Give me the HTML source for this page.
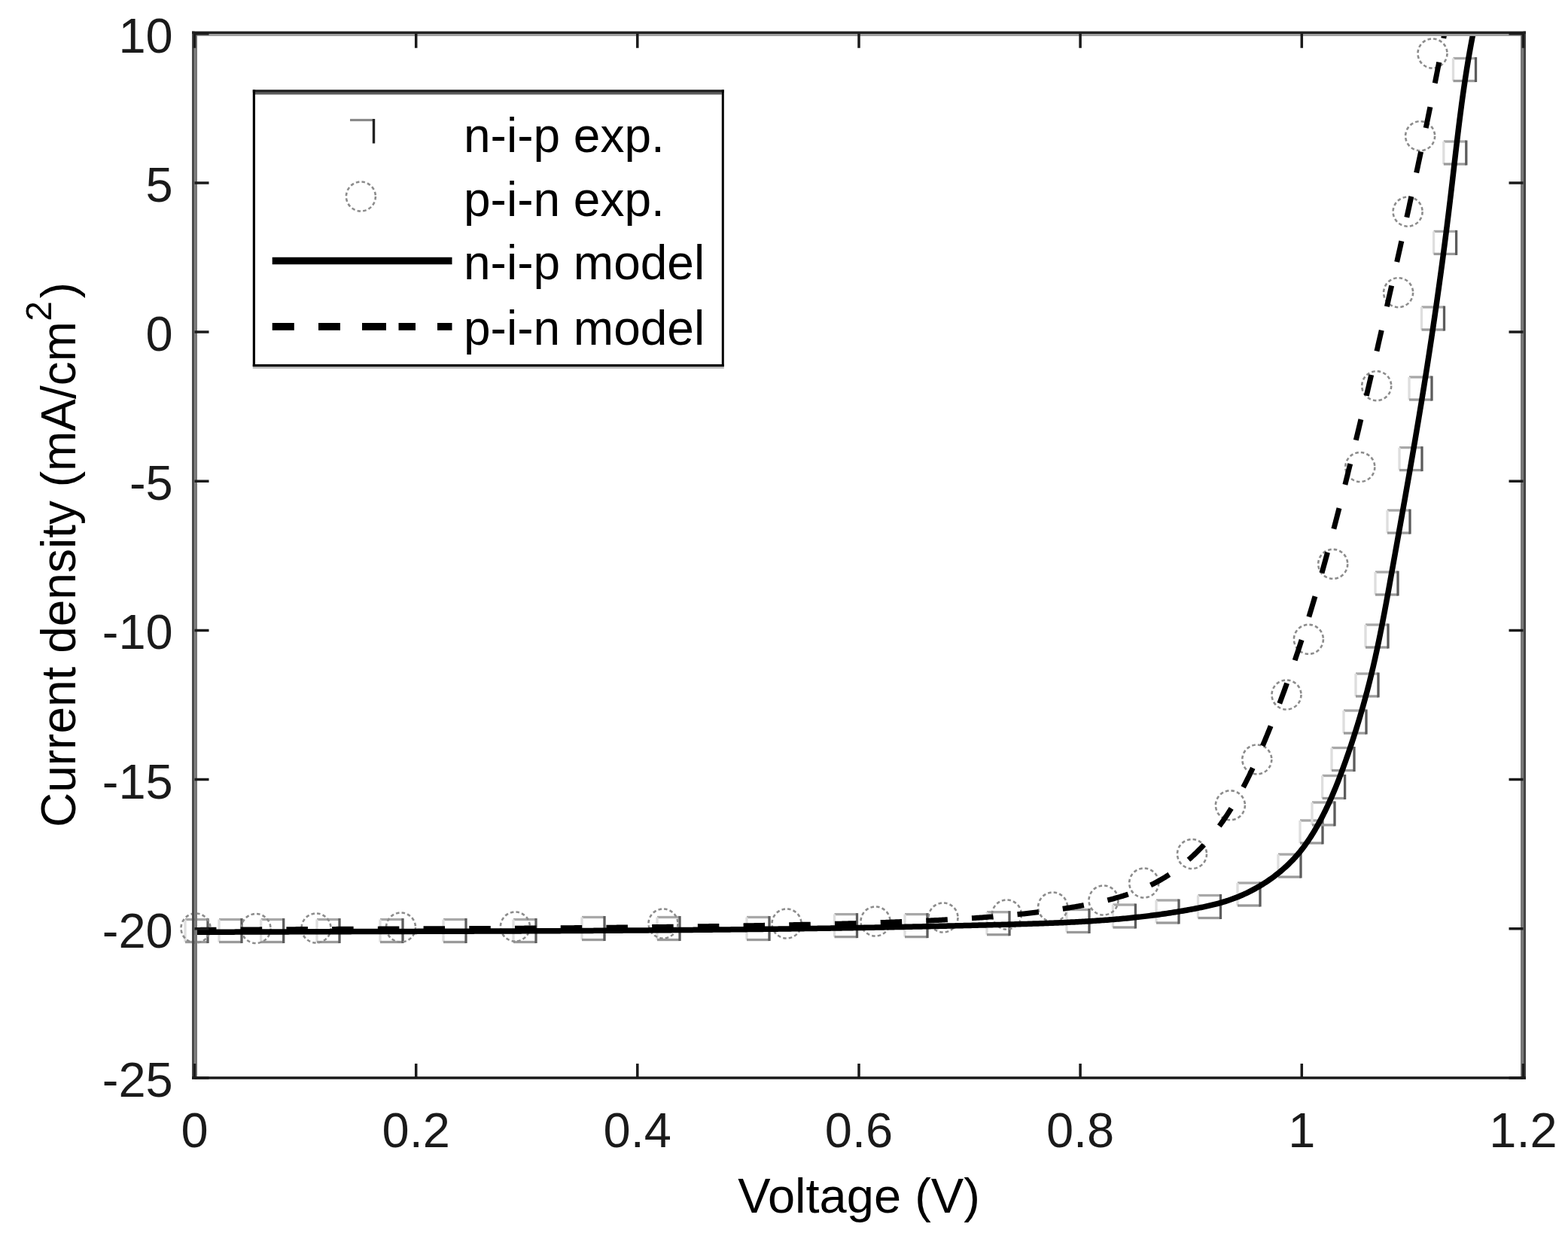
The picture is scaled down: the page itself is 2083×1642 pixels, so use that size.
<!DOCTYPE html>
<html><head><meta charset="utf-8"><title>J-V curves</title>
<style>html,body{margin:0;padding:0;background:#fff;width:2083px;height:1642px;overflow:hidden}svg{display:block}</style>
</head><body>
<svg width="2083" height="1642" viewBox="0 0 2083 1642">
<rect width="2083" height="1642" fill="#fff"/>
<defs><clipPath id="ax"><rect x="258.5" y="44.7" width="1765.0" height="1387.3"/></clipPath></defs>
<g fill="none" stroke-width="3.3">
<path d="M246.0,1221.5H276.0" stroke="#a8a8a8"/><path d="M246.0,1221.5V1251.5" stroke="#dedede"/><path d="M246.0,1251.5H276.0" stroke="#9a9a9a"/><path d="M276.0,1220.0V1253.0" stroke="#5c5c5c"/>
<path d="M291.0,1221.5H321.0" stroke="#a8a8a8"/><path d="M291.0,1221.5V1251.5" stroke="#dedede"/><path d="M291.0,1251.5H321.0" stroke="#9a9a9a"/><path d="M321.0,1220.0V1253.0" stroke="#5c5c5c"/>
<path d="M346.7,1221.5H376.7" stroke="#a8a8a8"/><path d="M346.7,1221.5V1251.5" stroke="#dedede"/><path d="M346.7,1251.5H376.7" stroke="#9a9a9a"/><path d="M376.7,1220.0V1253.0" stroke="#5c5c5c"/>
<path d="M421.0,1221.5H451.0" stroke="#a8a8a8"/><path d="M421.0,1221.5V1251.5" stroke="#dedede"/><path d="M421.0,1251.5H451.0" stroke="#9a9a9a"/><path d="M451.0,1220.0V1253.0" stroke="#5c5c5c"/>
<path d="M505.0,1221.5H535.0" stroke="#a8a8a8"/><path d="M505.0,1221.5V1251.5" stroke="#dedede"/><path d="M505.0,1251.5H535.0" stroke="#9a9a9a"/><path d="M535.0,1220.0V1253.0" stroke="#5c5c5c"/>
<path d="M589.0,1221.5H619.0" stroke="#a8a8a8"/><path d="M589.0,1221.5V1251.5" stroke="#dedede"/><path d="M589.0,1251.5H619.0" stroke="#9a9a9a"/><path d="M619.0,1220.0V1253.0" stroke="#5c5c5c"/>
<path d="M682.0,1221.5H712.0" stroke="#a8a8a8"/><path d="M682.0,1221.5V1251.5" stroke="#dedede"/><path d="M682.0,1251.5H712.0" stroke="#9a9a9a"/><path d="M712.0,1220.0V1253.0" stroke="#5c5c5c"/>
<path d="M773.0,1218.5H803.0" stroke="#a8a8a8"/><path d="M773.0,1218.5V1248.5" stroke="#dedede"/><path d="M773.0,1248.5H803.0" stroke="#9a9a9a"/><path d="M803.0,1217.0V1250.0" stroke="#5c5c5c"/>
<path d="M873.0,1218.5H903.0" stroke="#a8a8a8"/><path d="M873.0,1218.5V1248.5" stroke="#dedede"/><path d="M873.0,1248.5H903.0" stroke="#9a9a9a"/><path d="M903.0,1217.0V1250.0" stroke="#5c5c5c"/>
<path d="M992.0,1218.5H1022.0" stroke="#a8a8a8"/><path d="M992.0,1218.5V1248.5" stroke="#dedede"/><path d="M992.0,1248.5H1022.0" stroke="#9a9a9a"/><path d="M1022.0,1217.0V1250.0" stroke="#5c5c5c"/>
<path d="M1108.5,1214.6H1138.5" stroke="#a8a8a8"/><path d="M1108.5,1214.6V1244.6" stroke="#dedede"/><path d="M1108.5,1244.6H1138.5" stroke="#9a9a9a"/><path d="M1138.5,1213.1V1246.1" stroke="#5c5c5c"/>
<path d="M1202.0,1214.6H1232.0" stroke="#a8a8a8"/><path d="M1202.0,1214.6V1244.6" stroke="#dedede"/><path d="M1202.0,1244.6H1232.0" stroke="#9a9a9a"/><path d="M1232.0,1213.1V1246.1" stroke="#5c5c5c"/>
<path d="M1311.0,1211.7H1341.0" stroke="#a8a8a8"/><path d="M1311.0,1211.7V1241.7" stroke="#dedede"/><path d="M1311.0,1241.7H1341.0" stroke="#9a9a9a"/><path d="M1341.0,1210.2V1243.2" stroke="#5c5c5c"/>
<path d="M1417.0,1208.5H1447.0" stroke="#a8a8a8"/><path d="M1417.0,1208.5V1238.5" stroke="#dedede"/><path d="M1417.0,1238.5H1447.0" stroke="#9a9a9a"/><path d="M1447.0,1207.0V1240.0" stroke="#5c5c5c"/>
<path d="M1478.4,1202.0H1508.4" stroke="#a8a8a8"/><path d="M1478.4,1202.0V1232.0" stroke="#dedede"/><path d="M1478.4,1232.0H1508.4" stroke="#9a9a9a"/><path d="M1508.4,1200.5V1233.5" stroke="#5c5c5c"/>
<path d="M1536.0,1196.0H1566.0" stroke="#a8a8a8"/><path d="M1536.0,1196.0V1226.0" stroke="#dedede"/><path d="M1536.0,1226.0H1566.0" stroke="#9a9a9a"/><path d="M1566.0,1194.5V1227.5" stroke="#5c5c5c"/>
<path d="M1591.5,1189.5H1621.5" stroke="#a8a8a8"/><path d="M1591.5,1189.5V1219.5" stroke="#dedede"/><path d="M1591.5,1219.5H1621.5" stroke="#9a9a9a"/><path d="M1621.5,1188.0V1221.0" stroke="#5c5c5c"/>
<path d="M1644.0,1173.0H1674.0" stroke="#a8a8a8"/><path d="M1644.0,1173.0V1203.0" stroke="#dedede"/><path d="M1644.0,1203.0H1674.0" stroke="#9a9a9a"/><path d="M1674.0,1171.5V1204.5" stroke="#5c5c5c"/>
<path d="M1698.0,1135.0H1728.0" stroke="#a8a8a8"/><path d="M1698.0,1135.0V1165.0" stroke="#dedede"/><path d="M1698.0,1165.0H1728.0" stroke="#9a9a9a"/><path d="M1728.0,1133.5V1166.5" stroke="#5c5c5c"/>
<path d="M1727.0,1090.0H1757.0" stroke="#a8a8a8"/><path d="M1727.0,1090.0V1120.0" stroke="#dedede"/><path d="M1727.0,1120.0H1757.0" stroke="#9a9a9a"/><path d="M1757.0,1088.5V1121.5" stroke="#5c5c5c"/>
<path d="M1743.0,1066.0H1773.0" stroke="#a8a8a8"/><path d="M1743.0,1066.0V1096.0" stroke="#dedede"/><path d="M1743.0,1096.0H1773.0" stroke="#9a9a9a"/><path d="M1773.0,1064.5V1097.5" stroke="#5c5c5c"/>
<path d="M1756.6,1030.5H1786.6" stroke="#a8a8a8"/><path d="M1756.6,1030.5V1060.5" stroke="#dedede"/><path d="M1756.6,1060.5H1786.6" stroke="#9a9a9a"/><path d="M1786.6,1029.0V1062.0" stroke="#5c5c5c"/>
<path d="M1769.0,993.5H1799.0" stroke="#a8a8a8"/><path d="M1769.0,993.5V1023.5" stroke="#dedede"/><path d="M1769.0,1023.5H1799.0" stroke="#9a9a9a"/><path d="M1799.0,992.0V1025.0" stroke="#5c5c5c"/>
<path d="M1785.0,944.0H1815.0" stroke="#a8a8a8"/><path d="M1785.0,944.0V974.0" stroke="#dedede"/><path d="M1785.0,974.0H1815.0" stroke="#9a9a9a"/><path d="M1815.0,942.5V975.5" stroke="#5c5c5c"/>
<path d="M1801.0,895.0H1831.0" stroke="#a8a8a8"/><path d="M1801.0,895.0V925.0" stroke="#dedede"/><path d="M1801.0,925.0H1831.0" stroke="#9a9a9a"/><path d="M1831.0,893.5V926.5" stroke="#5c5c5c"/>
<path d="M1814.0,830.0H1844.0" stroke="#a8a8a8"/><path d="M1814.0,830.0V860.0" stroke="#dedede"/><path d="M1814.0,860.0H1844.0" stroke="#9a9a9a"/><path d="M1844.0,828.5V861.5" stroke="#5c5c5c"/>
<path d="M1827.0,760.0H1857.0" stroke="#a8a8a8"/><path d="M1827.0,760.0V790.0" stroke="#dedede"/><path d="M1827.0,790.0H1857.0" stroke="#9a9a9a"/><path d="M1857.0,758.5V791.5" stroke="#5c5c5c"/>
<path d="M1843.0,678.0H1873.0" stroke="#a8a8a8"/><path d="M1843.0,678.0V708.0" stroke="#dedede"/><path d="M1843.0,708.0H1873.0" stroke="#9a9a9a"/><path d="M1873.0,676.5V709.5" stroke="#5c5c5c"/>
<path d="M1859.0,594.6H1889.0" stroke="#a8a8a8"/><path d="M1859.0,594.6V624.6" stroke="#dedede"/><path d="M1859.0,624.6H1889.0" stroke="#9a9a9a"/><path d="M1889.0,593.1V626.1" stroke="#5c5c5c"/>
<path d="M1872.0,501.0H1902.0" stroke="#a8a8a8"/><path d="M1872.0,501.0V531.0" stroke="#dedede"/><path d="M1872.0,531.0H1902.0" stroke="#9a9a9a"/><path d="M1902.0,499.5V532.5" stroke="#5c5c5c"/>
<path d="M1888.5,408.0H1918.5" stroke="#a8a8a8"/><path d="M1888.5,408.0V438.0" stroke="#dedede"/><path d="M1888.5,438.0H1918.5" stroke="#9a9a9a"/><path d="M1918.5,406.5V439.5" stroke="#5c5c5c"/>
<path d="M1904.6,307.4H1934.6" stroke="#a8a8a8"/><path d="M1904.6,307.4V337.4" stroke="#dedede"/><path d="M1904.6,337.4H1934.6" stroke="#9a9a9a"/><path d="M1934.6,305.9V338.9" stroke="#5c5c5c"/>
<path d="M1917.8,188.0H1947.8" stroke="#a8a8a8"/><path d="M1917.8,188.0V218.0" stroke="#dedede"/><path d="M1917.8,218.0H1947.8" stroke="#9a9a9a"/><path d="M1947.8,186.5V219.5" stroke="#5c5c5c"/>
<path d="M1930.5,77.5H1960.5" stroke="#a8a8a8"/><path d="M1930.5,77.5V107.5" stroke="#dedede"/><path d="M1930.5,107.5H1960.5" stroke="#9a9a9a"/><path d="M1960.5,76.0V109.0" stroke="#5c5c5c"/>
</g>
<circle cx="260.0" cy="1233.0" r="19.5" fill="none" stroke="#8c8c8c" stroke-width="2.6" stroke-dasharray="4.5 3.2"/>
<circle cx="340.0" cy="1233.5" r="19.5" fill="none" stroke="#8c8c8c" stroke-width="2.6" stroke-dasharray="4.5 3.2"/>
<circle cx="420.0" cy="1233.0" r="19.5" fill="none" stroke="#8c8c8c" stroke-width="2.6" stroke-dasharray="4.5 3.2"/>
<circle cx="532.5" cy="1232.0" r="19.5" fill="none" stroke="#8c8c8c" stroke-width="2.6" stroke-dasharray="4.5 3.2"/>
<circle cx="684.4" cy="1231.0" r="19.5" fill="none" stroke="#8c8c8c" stroke-width="2.6" stroke-dasharray="4.5 3.2"/>
<circle cx="881.0" cy="1227.0" r="19.5" fill="none" stroke="#8c8c8c" stroke-width="2.6" stroke-dasharray="4.5 3.2"/>
<circle cx="1045.0" cy="1227.0" r="19.5" fill="none" stroke="#8c8c8c" stroke-width="2.6" stroke-dasharray="4.5 3.2"/>
<circle cx="1163.0" cy="1224.0" r="19.5" fill="none" stroke="#8c8c8c" stroke-width="2.6" stroke-dasharray="4.5 3.2"/>
<circle cx="1253.0" cy="1219.0" r="19.5" fill="none" stroke="#8c8c8c" stroke-width="2.6" stroke-dasharray="4.5 3.2"/>
<circle cx="1337.4" cy="1215.0" r="19.5" fill="none" stroke="#8c8c8c" stroke-width="2.6" stroke-dasharray="4.5 3.2"/>
<circle cx="1398.6" cy="1205.0" r="19.5" fill="none" stroke="#8c8c8c" stroke-width="2.6" stroke-dasharray="4.5 3.2"/>
<circle cx="1466.0" cy="1196.0" r="19.5" fill="none" stroke="#8c8c8c" stroke-width="2.6" stroke-dasharray="4.5 3.2"/>
<circle cx="1519.7" cy="1173.0" r="19.5" fill="none" stroke="#8c8c8c" stroke-width="2.6" stroke-dasharray="4.5 3.2"/>
<circle cx="1583.5" cy="1134.5" r="19.5" fill="none" stroke="#8c8c8c" stroke-width="2.6" stroke-dasharray="4.5 3.2"/>
<circle cx="1634.4" cy="1069.8" r="19.5" fill="none" stroke="#8c8c8c" stroke-width="2.6" stroke-dasharray="4.5 3.2"/>
<circle cx="1669.8" cy="1008.9" r="19.5" fill="none" stroke="#8c8c8c" stroke-width="2.6" stroke-dasharray="4.5 3.2"/>
<circle cx="1709.0" cy="923.0" r="19.5" fill="none" stroke="#8c8c8c" stroke-width="2.6" stroke-dasharray="4.5 3.2"/>
<circle cx="1738.4" cy="849.3" r="19.5" fill="none" stroke="#8c8c8c" stroke-width="2.6" stroke-dasharray="4.5 3.2"/>
<circle cx="1770.7" cy="749.3" r="19.5" fill="none" stroke="#8c8c8c" stroke-width="2.6" stroke-dasharray="4.5 3.2"/>
<circle cx="1806.8" cy="620.5" r="19.5" fill="none" stroke="#8c8c8c" stroke-width="2.6" stroke-dasharray="4.5 3.2"/>
<circle cx="1828.7" cy="512.6" r="19.5" fill="none" stroke="#8c8c8c" stroke-width="2.6" stroke-dasharray="4.5 3.2"/>
<circle cx="1857.6" cy="388.7" r="19.5" fill="none" stroke="#8c8c8c" stroke-width="2.6" stroke-dasharray="4.5 3.2"/>
<circle cx="1870.1" cy="281.2" r="19.5" fill="none" stroke="#8c8c8c" stroke-width="2.6" stroke-dasharray="4.5 3.2"/>
<circle cx="1886.6" cy="180.7" r="19.5" fill="none" stroke="#8c8c8c" stroke-width="2.6" stroke-dasharray="4.5 3.2"/>
<circle cx="1903.0" cy="71.0" r="19.5" fill="none" stroke="#8c8c8c" stroke-width="2.6" stroke-dasharray="4.5 3.2"/>
<g clip-path="url(#ax)">
<path d="M258.33,1238.35 L260.51,1238.34 L262.70,1238.33 L264.89,1238.32 L267.08,1238.31 L269.27,1238.30 L271.46,1238.29 L273.64,1238.28 L275.83,1238.27 L278.02,1238.26 L280.21,1238.25 L282.39,1238.24 L284.58,1238.23 L286.77,1238.22 L288.96,1238.21 L291.14,1238.21 L293.33,1238.20 L295.52,1238.19 L297.70,1238.18 L299.89,1238.17 L302.07,1238.16 L304.26,1238.15 L306.45,1238.14 L308.63,1238.14 L310.82,1238.13 L313.00,1238.12 L315.19,1238.11 L317.37,1238.10 L319.56,1238.09 L321.74,1238.09 L323.93,1238.08 L326.11,1238.07 L328.29,1238.06 L330.48,1238.05 L332.66,1238.05 L334.85,1238.04 L337.03,1238.03 L339.21,1238.02 L341.40,1238.01 L343.58,1238.01 L345.76,1238.00 L347.95,1237.99 L350.13,1237.98 L352.31,1237.98 L354.50,1237.97 L356.68,1237.96 L358.86,1237.95 L361.04,1237.95 L363.23,1237.94 L365.41,1237.93 L367.59,1237.92 L369.77,1237.92 L371.95,1237.91 L374.14,1237.90 L376.32,1237.90 L378.50,1237.89 L380.68,1237.88 L382.86,1237.88 L385.04,1237.87 L387.22,1237.86 L389.40,1237.85 L391.58,1237.85 L393.76,1237.84 L395.95,1237.83 L398.13,1237.83 L400.31,1237.82 L402.49,1237.81 L404.67,1237.81 L406.85,1237.80 L409.03,1237.79 L411.21,1237.79 L413.38,1237.78 L415.56,1237.77 L417.74,1237.77 L419.92,1237.76 L422.10,1237.76 L424.28,1237.75 L426.46,1237.74 L428.64,1237.74 L430.82,1237.73 L433.00,1237.72 L435.17,1237.72 L437.35,1237.71 L439.53,1237.70 L441.71,1237.70 L443.89,1237.69 L446.07,1237.69 L448.24,1237.68 L450.42,1237.67 L452.60,1237.67 L454.78,1237.66 L456.95,1237.65 L459.13,1237.65 L461.31,1237.64 L463.49,1237.64 L465.66,1237.63 L467.84,1237.62 L470.02,1237.62 L472.20,1237.61 L474.37,1237.60 L476.55,1237.60 L478.73,1237.59 L480.90,1237.59 L483.08,1237.58 L485.26,1237.57 L487.43,1237.57 L489.61,1237.56 L491.78,1237.56 L493.96,1237.55 L496.14,1237.54 L498.31,1237.54 L500.49,1237.53 L502.66,1237.52 L504.84,1237.52 L507.01,1237.51 L509.19,1237.51 L511.37,1237.50 L513.54,1237.49 L515.72,1237.49 L517.89,1237.48 L520.07,1237.47 L522.24,1237.47 L524.42,1237.46 L526.59,1237.45 L528.77,1237.45 L530.94,1237.44 L533.12,1237.44 L535.29,1237.43 L537.47,1237.42 L539.64,1237.42 L541.81,1237.41 L543.99,1237.40 L546.16,1237.40 L548.34,1237.39 L550.51,1237.38 L552.69,1237.38 L554.86,1237.37 L557.03,1237.36 L559.21,1237.36 L561.38,1237.35 L563.55,1237.34 L565.73,1237.34 L567.90,1237.33 L570.08,1237.32 L572.25,1237.32 L574.42,1237.31 L576.60,1237.30 L578.77,1237.30 L580.94,1237.29 L583.12,1237.28 L585.29,1237.28 L587.46,1237.27 L589.64,1237.26 L591.81,1237.25 L593.98,1237.25 L596.15,1237.24 L598.33,1237.23 L600.50,1237.23 L602.67,1237.22 L604.85,1237.21 L607.02,1237.20 L609.19,1237.20 L611.36,1237.19 L613.54,1237.18 L615.71,1237.17 L617.88,1237.17 L620.05,1237.16 L622.23,1237.15 L624.40,1237.14 L626.57,1237.14 L628.74,1237.13 L630.91,1237.12 L633.09,1237.11 L635.26,1237.10 L637.43,1237.10 L639.60,1237.09 L641.77,1237.08 L643.95,1237.07 L646.12,1237.06 L648.29,1237.06 L650.46,1237.05 L652.63,1237.04 L654.80,1237.03 L656.98,1237.02 L659.15,1237.01 L661.32,1237.01 L663.49,1237.00 L665.66,1236.99 L667.83,1236.98 L670.01,1236.97 L672.18,1236.96 L674.35,1236.95 L676.52,1236.94 L678.69,1236.93 L680.86,1236.93 L683.03,1236.92 L685.20,1236.91 L687.38,1236.90 L689.55,1236.89 L691.72,1236.88 L693.89,1236.87 L696.06,1236.86 L698.23,1236.85 L700.40,1236.84 L702.57,1236.83 L704.74,1236.82 L706.92,1236.81 L709.09,1236.80 L711.26,1236.79 L713.43,1236.78 L715.60,1236.77 L717.77,1236.76 L719.94,1236.75 L722.11,1236.74 L724.28,1236.73 L726.45,1236.72 L728.62,1236.71 L730.79,1236.70 L732.97,1236.69 L735.14,1236.68 L737.31,1236.66 L739.48,1236.65 L741.65,1236.64 L743.82,1236.63 L745.99,1236.62 L748.16,1236.61 L750.33,1236.60 L752.50,1236.58 L754.67,1236.57 L756.84,1236.56 L759.01,1236.55 L761.18,1236.54 L763.35,1236.53 L765.52,1236.51 L767.69,1236.50 L769.87,1236.49 L772.04,1236.48 L774.21,1236.46 L776.38,1236.45 L778.55,1236.44 L780.72,1236.43 L782.89,1236.41 L785.06,1236.40 L787.23,1236.39 L789.40,1236.37 L791.57,1236.36 L793.74,1236.35 L795.91,1236.33 L798.08,1236.32 L800.25,1236.31 L802.42,1236.29 L804.59,1236.28 L806.76,1236.27 L808.93,1236.25 L811.10,1236.24 L813.27,1236.22 L815.44,1236.21 L817.61,1236.19 L819.79,1236.18 L821.96,1236.17 L824.13,1236.15 L826.30,1236.14 L828.47,1236.12 L830.64,1236.11 L832.81,1236.09 L834.98,1236.08 L837.15,1236.06 L839.32,1236.04 L841.49,1236.03 L843.66,1236.01 L845.83,1236.00 L848.00,1235.98 L850.17,1235.96 L852.34,1235.95 L854.51,1235.93 L856.68,1235.92 L858.85,1235.90 L861.02,1235.88 L863.20,1235.87 L865.37,1235.85 L867.54,1235.83 L869.71,1235.81 L871.88,1235.80 L874.05,1235.78 L876.22,1235.76 L878.39,1235.74 L880.56,1235.73 L882.73,1235.71 L884.90,1235.69 L887.07,1235.67 L889.24,1235.65 L891.41,1235.64 L893.59,1235.62 L895.76,1235.60 L897.93,1235.58 L900.10,1235.56 L902.27,1235.54 L904.44,1235.52 L906.61,1235.50 L908.78,1235.48 L910.95,1235.46 L913.12,1235.44 L915.30,1235.42 L917.47,1235.40 L919.64,1235.38 L921.81,1235.36 L923.98,1235.34 L926.15,1235.32 L928.32,1235.30 L930.49,1235.28 L932.67,1235.26 L934.84,1235.24 L937.01,1235.22 L939.18,1235.20 L941.35,1235.18 L943.52,1235.15 L945.69,1235.13 L947.87,1235.11 L950.04,1235.09 L952.21,1235.07 L954.38,1235.04 L956.55,1235.02 L958.72,1235.00 L960.90,1234.97 L963.07,1234.95 L965.24,1234.93 L967.41,1234.91 L969.58,1234.88 L971.76,1234.86 L973.93,1234.83 L976.10,1234.81 L978.27,1234.79 L980.44,1234.76 L982.62,1234.74 L984.79,1234.71 L986.96,1234.69 L989.13,1234.66 L991.31,1234.64 L993.48,1234.61 L995.65,1234.59 L997.82,1234.56 L1000.00,1234.54 L1002.17,1234.51 L1004.34,1234.48 L1006.51,1234.46 L1008.69,1234.43 L1010.86,1234.41 L1013.03,1234.38 L1015.20,1234.35 L1017.38,1234.33 L1019.55,1234.30 L1021.72,1234.27 L1023.90,1234.24 L1026.07,1234.22 L1028.24,1234.19 L1030.42,1234.16 L1032.59,1234.13 L1034.76,1234.10 L1036.94,1234.07 L1039.11,1234.05 L1041.28,1234.02 L1043.46,1233.99 L1045.63,1233.96 L1047.81,1233.93 L1049.98,1233.90 L1052.15,1233.87 L1054.33,1233.84 L1056.50,1233.81 L1058.67,1233.78 L1060.85,1233.75 L1063.02,1233.72 L1065.20,1233.69 L1067.37,1233.66 L1069.55,1233.62 L1071.72,1233.59 L1073.89,1233.56 L1076.07,1233.53 L1078.24,1233.50 L1080.42,1233.47 L1082.59,1233.43 L1084.77,1233.40 L1086.94,1233.37 L1089.12,1233.34 L1091.29,1233.30 L1093.47,1233.27 L1095.64,1233.24 L1097.82,1233.20 L1099.99,1233.17 L1102.17,1233.13 L1104.35,1233.10 L1106.52,1233.06 L1108.70,1233.03 L1110.87,1233.00 L1113.05,1232.96 L1115.22,1232.92 L1117.40,1232.89 L1119.58,1232.85 L1121.75,1232.82 L1123.93,1232.78 L1126.10,1232.75 L1128.28,1232.71 L1130.46,1232.67 L1132.63,1232.64 L1134.81,1232.60 L1136.99,1232.56 L1139.16,1232.52 L1141.34,1232.49 L1143.52,1232.45 L1145.69,1232.41 L1147.87,1232.37 L1150.05,1232.33 L1152.23,1232.29 L1154.40,1232.26 L1156.58,1232.22 L1158.76,1232.18 L1160.94,1232.14 L1163.11,1232.10 L1165.29,1232.06 L1167.47,1232.02 L1169.65,1231.98 L1171.82,1231.94 L1174.00,1231.89 L1176.18,1231.85 L1178.36,1231.81 L1180.54,1231.77 L1182.72,1231.73 L1184.90,1231.69 L1187.07,1231.64 L1189.25,1231.60 L1191.43,1231.56 L1193.61,1231.52 L1195.79,1231.47 L1197.97,1231.43 L1200.15,1231.39 L1202.33,1231.34 L1204.51,1231.30 L1206.69,1231.25 L1208.87,1231.21 L1211.05,1231.16 L1213.23,1231.12 L1215.41,1231.07 L1217.59,1231.03 L1219.77,1230.98 L1221.95,1230.94 L1224.13,1230.89 L1226.31,1230.85 L1228.49,1230.80 L1230.67,1230.75 L1232.85,1230.70 L1235.03,1230.66 L1237.21,1230.61 L1239.39,1230.56 L1241.57,1230.51 L1243.76,1230.47 L1245.94,1230.42 L1248.12,1230.37 L1250.30,1230.32 L1252.48,1230.27 L1254.67,1230.22 L1256.85,1230.17 L1259.03,1230.12 L1261.21,1230.07 L1263.39,1230.02 L1265.58,1229.97 L1267.76,1229.92 L1269.94,1229.87 L1272.13,1229.81 L1274.31,1229.76 L1276.49,1229.71 L1278.67,1229.66 L1280.86,1229.61 L1283.04,1229.55 L1285.23,1229.50 L1287.41,1229.45 L1289.59,1229.39 L1291.78,1229.34 L1293.96,1229.29 L1296.15,1229.23 L1298.33,1229.18 L1300.51,1229.12 L1302.70,1229.07 L1304.88,1229.01 L1307.07,1228.96 L1309.25,1228.90 L1311.44,1228.84 L1313.62,1228.79 L1315.81,1228.73 L1318.00,1228.67 L1320.18,1228.62 L1322.37,1228.56 L1324.55,1228.50 L1326.74,1228.44 L1328.93,1228.38 L1331.11,1228.33 L1333.30,1228.27 L1335.49,1228.21 L1337.67,1228.15 L1339.86,1228.09 L1342.05,1228.03 L1344.23,1227.97 L1346.42,1227.91 L1348.61,1227.84 L1350.80,1227.78 L1352.98,1227.72 L1355.17,1227.66 L1357.36,1227.59 L1359.55,1227.53 L1361.73,1227.46 L1363.92,1227.40 L1366.11,1227.33 L1368.29,1227.26 L1370.48,1227.19 L1372.67,1227.12 L1374.86,1227.05 L1377.04,1226.98 L1379.23,1226.90 L1381.42,1226.83 L1383.60,1226.75 L1385.79,1226.68 L1387.97,1226.60 L1390.16,1226.52 L1392.34,1226.44 L1394.53,1226.35 L1396.71,1226.27 L1398.90,1226.18 L1401.08,1226.10 L1403.27,1226.01 L1405.45,1225.92 L1407.63,1225.82 L1409.82,1225.73 L1412.00,1225.63 L1414.18,1225.53 L1416.36,1225.43 L1418.54,1225.33 L1420.72,1225.23 L1422.90,1225.12 L1425.08,1225.01 L1427.26,1224.90 L1429.44,1224.79 L1431.62,1224.67 L1433.80,1224.55 L1435.98,1224.43 L1438.15,1224.31 L1440.33,1224.18 L1442.51,1224.06 L1444.68,1223.93 L1446.86,1223.79 L1449.03,1223.66 L1451.20,1223.52 L1453.38,1223.38 L1455.55,1223.24 L1457.72,1223.09 L1459.89,1222.94 L1462.06,1222.79 L1464.23,1222.63 L1466.40,1222.47 L1468.57,1222.31 L1470.74,1222.15 L1472.91,1221.98 L1475.07,1221.81 L1477.24,1221.63 L1479.41,1221.45 L1481.57,1221.27 L1483.74,1221.09 L1485.90,1220.90 L1488.06,1220.71 L1490.23,1220.51 L1492.39,1220.31 L1494.55,1220.11 L1496.71,1219.91 L1498.87,1219.69 L1501.03,1219.48 L1503.19,1219.26 L1505.35,1219.04 L1507.50,1218.82 L1509.66,1218.59 L1511.82,1218.35 L1513.97,1218.11 L1516.13,1217.87 L1518.28,1217.63 L1520.43,1217.37 L1522.59,1217.12 L1524.74,1216.86 L1526.89,1216.60 L1529.04,1216.33 L1531.20,1216.06 L1533.35,1215.78 L1535.50,1215.50 L1537.65,1215.21 L1539.79,1214.92 L1541.94,1214.62 L1544.09,1214.32 L1546.24,1214.01 L1548.39,1213.70 L1550.53,1213.39 L1552.68,1213.07 L1554.83,1212.74 L1556.97,1212.41 L1559.12,1212.07 L1561.26,1211.73 L1563.41,1211.38 L1565.55,1211.03 L1567.70,1210.67 L1569.84,1210.31 L1571.98,1209.94 L1574.13,1209.57 L1576.27,1209.19 L1578.42,1208.80 L1580.56,1208.41 L1582.70,1208.01 L1584.85,1207.61 L1586.99,1207.20 L1589.14,1206.79 L1591.28,1206.37 L1593.42,1205.94 L1595.57,1205.50 L1597.71,1205.06 L1599.85,1204.61 L1601.99,1204.15 L1604.13,1203.67 L1606.26,1203.19 L1608.40,1202.70 L1610.53,1202.19 L1612.65,1201.67 L1614.78,1201.13 L1616.90,1200.58 L1619.01,1200.01 L1621.12,1199.43 L1623.22,1198.82 L1625.32,1198.20 L1627.41,1197.56 L1629.49,1196.91 L1631.56,1196.23 L1633.63,1195.53 L1635.69,1194.81 L1637.73,1194.07 L1639.77,1193.31 L1641.81,1192.53 L1643.83,1191.73 L1645.84,1190.91 L1647.84,1190.07 L1649.83,1189.21 L1651.81,1188.33 L1653.78,1187.44 L1655.74,1186.52 L1657.69,1185.59 L1659.63,1184.63 L1661.55,1183.66 L1663.47,1182.67 L1665.37,1181.66 L1667.26,1180.64 L1669.14,1179.59 L1671.01,1178.53 L1672.86,1177.45 L1674.71,1176.35 L1676.54,1175.24 L1678.36,1174.10 L1680.17,1172.95 L1681.96,1171.78 L1683.74,1170.60 L1685.51,1169.39 L1687.27,1168.17 L1689.01,1166.93 L1690.75,1165.67 L1692.47,1164.40 L1694.17,1163.10 L1695.87,1161.79 L1697.55,1160.46 L1699.22,1159.12 L1700.87,1157.75 L1702.52,1156.37 L1704.14,1154.97 L1705.76,1153.55 L1707.36,1152.11 L1708.94,1150.66 L1710.51,1149.18 L1712.07,1147.69 L1713.61,1146.18 L1715.13,1144.65 L1716.64,1143.10 L1718.13,1141.54 L1719.60,1139.96 L1721.06,1138.36 L1722.50,1136.74 L1723.92,1135.10 L1725.32,1133.45 L1726.70,1131.78 L1728.07,1130.09 L1729.41,1128.39 L1730.74,1126.67 L1732.05,1124.94 L1733.34,1123.19 L1734.61,1121.43 L1735.87,1119.66 L1737.11,1117.87 L1738.33,1116.07 L1739.54,1114.27 L1740.73,1112.45 L1741.90,1110.62 L1743.06,1108.78 L1744.21,1106.93 L1745.34,1105.08 L1746.45,1103.22 L1747.55,1101.35 L1748.64,1099.47 L1749.72,1097.59 L1750.78,1095.71 L1751.83,1093.81 L1752.87,1091.92 L1753.90,1090.01 L1754.91,1088.11 L1755.91,1086.19 L1756.91,1084.28 L1757.89,1082.36 L1758.86,1080.43 L1759.82,1078.50 L1760.77,1076.56 L1761.70,1074.62 L1762.63,1072.68 L1763.55,1070.73 L1764.46,1068.78 L1765.36,1066.82 L1766.25,1064.86 L1767.13,1062.90 L1768.01,1060.93 L1768.87,1058.96 L1769.73,1056.98 L1770.58,1055.00 L1771.42,1053.02 L1772.25,1051.03 L1773.08,1049.04 L1773.89,1047.05 L1774.71,1045.05 L1775.51,1043.05 L1776.31,1041.05 L1777.10,1039.05 L1777.89,1037.04 L1778.67,1035.02 L1779.44,1033.01 L1780.21,1030.99 L1780.97,1028.97 L1781.73,1026.95 L1782.49,1024.92 L1783.24,1022.89 L1783.98,1020.86 L1784.72,1018.83 L1785.46,1016.79 L1786.19,1014.75 L1786.92,1012.71 L1787.65,1010.67 L1788.37,1008.62 L1789.09,1006.58 L1789.81,1004.52 L1790.52,1002.47 L1791.23,1000.42 L1791.93,998.36 L1792.63,996.30 L1793.33,994.24 L1794.03,992.17 L1794.72,990.10 L1795.41,988.03 L1796.09,985.96 L1796.77,983.89 L1797.45,981.81 L1798.12,979.73 L1798.79,977.65 L1799.46,975.56 L1800.12,973.48 L1800.78,971.39 L1801.43,969.30 L1802.09,967.21 L1802.73,965.11 L1803.38,963.01 L1804.02,960.92 L1804.66,958.81 L1805.29,956.71 L1805.92,954.61 L1806.55,952.50 L1807.17,950.39 L1807.79,948.28 L1808.40,946.17 L1809.01,944.06 L1809.62,941.94 L1810.22,939.83 L1810.82,937.71 L1811.42,935.59 L1812.01,933.47 L1812.59,931.34 L1813.18,929.22 L1813.76,927.10 L1814.33,924.97 L1814.90,922.84 L1815.47,920.71 L1816.03,918.58 L1816.59,916.45 L1817.15,914.32 L1817.70,912.19 L1818.24,910.06 L1818.79,907.92 L1819.32,905.79 L1819.86,903.65 L1820.39,901.51 L1820.91,899.38 L1821.44,897.24 L1821.95,895.10 L1822.46,892.96 L1822.97,890.82 L1823.48,888.68 L1823.98,886.54 L1824.48,884.40 L1824.97,882.26 L1825.46,880.12 L1825.94,877.98 L1826.43,875.83 L1826.90,873.69 L1827.38,871.55 L1827.85,869.40 L1828.32,867.26 L1828.78,865.12 L1829.25,862.97 L1829.71,860.83 L1830.16,858.68 L1830.61,856.53 L1831.06,854.39 L1831.51,852.24 L1831.95,850.10 L1832.39,847.95 L1832.83,845.80 L1833.27,843.65 L1833.70,841.51 L1834.13,839.36 L1834.56,837.21 L1834.99,835.06 L1835.41,832.92 L1835.83,830.77 L1836.25,828.62 L1836.67,826.47 L1837.08,824.32 L1837.50,822.17 L1837.91,820.03 L1838.32,817.88 L1838.73,815.73 L1839.13,813.58 L1839.54,811.43 L1839.94,809.28 L1840.34,807.13 L1840.74,804.99 L1841.14,802.84 L1841.54,800.69 L1841.93,798.54 L1842.33,796.39 L1842.72,794.24 L1843.11,792.10 L1843.51,789.95 L1843.90,787.80 L1844.29,785.65 L1844.68,783.51 L1845.06,781.36 L1845.45,779.21 L1845.84,777.06 L1846.23,774.92 L1846.61,772.77 L1847.00,770.62 L1847.38,768.48 L1847.77,766.33 L1848.15,764.19 L1848.54,762.04 L1848.92,759.90 L1849.31,757.75 L1849.69,755.61 L1850.08,753.46 L1850.46,751.32 L1850.85,749.18 L1851.23,747.03 L1851.62,744.89 L1852.00,742.74 L1852.38,740.60 L1852.77,738.46 L1853.15,736.32 L1853.54,734.17 L1853.92,732.03 L1854.30,729.89 L1854.69,727.75 L1855.07,725.61 L1855.46,723.47 L1855.84,721.33 L1856.22,719.19 L1856.61,717.04 L1856.99,714.90 L1857.37,712.76 L1857.76,710.62 L1858.14,708.48 L1858.52,706.34 L1858.90,704.20 L1859.28,702.07 L1859.67,699.93 L1860.05,697.79 L1860.43,695.65 L1860.81,693.51 L1861.19,691.37 L1861.57,689.23 L1861.95,687.09 L1862.34,684.96 L1862.72,682.82 L1863.10,680.68 L1863.48,678.54 L1863.86,676.40 L1864.23,674.27 L1864.61,672.13 L1864.99,669.99 L1865.37,667.85 L1865.75,665.72 L1866.13,663.58 L1866.51,661.44 L1866.88,659.30 L1867.26,657.17 L1867.64,655.03 L1868.01,652.89 L1868.39,650.76 L1868.77,648.62 L1869.14,646.48 L1869.52,644.35 L1869.89,642.21 L1870.27,640.08 L1870.64,637.94 L1871.01,635.80 L1871.39,633.67 L1871.76,631.53 L1872.13,629.39 L1872.51,627.26 L1872.88,625.12 L1873.25,622.99 L1873.62,620.85 L1873.99,618.71 L1874.36,616.58 L1874.73,614.44 L1875.10,612.31 L1875.47,610.17 L1875.84,608.04 L1876.21,605.90 L1876.58,603.76 L1876.94,601.63 L1877.31,599.49 L1877.68,597.36 L1878.04,595.22 L1878.41,593.08 L1878.77,590.95 L1879.14,588.81 L1879.50,586.68 L1879.86,584.54 L1880.23,582.41 L1880.59,580.27 L1880.95,578.13 L1881.31,576.00 L1881.68,573.86 L1882.04,571.73 L1882.40,569.59 L1882.75,567.45 L1883.11,565.32 L1883.47,563.18 L1883.83,561.04 L1884.19,558.91 L1884.54,556.77 L1884.90,554.64 L1885.25,552.50 L1885.61,550.36 L1885.96,548.23 L1886.32,546.09 L1886.67,543.95 L1887.02,541.82 L1887.37,539.68 L1887.73,537.54 L1888.08,535.41 L1888.43,533.27 L1888.78,531.13 L1889.12,528.99 L1889.47,526.86 L1889.82,524.72 L1890.17,522.58 L1890.51,520.44 L1890.86,518.31 L1891.20,516.17 L1891.55,514.03 L1891.89,511.89 L1892.23,509.75 L1892.57,507.62 L1892.91,505.48 L1893.25,503.34 L1893.59,501.20 L1893.93,499.06 L1894.27,496.92 L1894.61,494.78 L1894.95,492.64 L1895.28,490.51 L1895.62,488.37 L1895.95,486.23 L1896.29,484.09 L1896.62,481.95 L1896.95,479.81 L1897.28,477.67 L1897.62,475.53 L1897.95,473.39 L1898.28,471.25 L1898.61,469.11 L1898.93,466.97 L1899.26,464.83 L1899.59,462.69 L1899.92,460.54 L1900.24,458.40 L1900.57,456.26 L1900.89,454.12 L1901.21,451.98 L1901.54,449.84 L1901.86,447.70 L1902.18,445.55 L1902.50,443.41 L1902.82,441.27 L1903.14,439.13 L1903.46,436.98 L1903.78,434.84 L1904.09,432.70 L1904.41,430.56 L1904.72,428.41 L1905.04,426.27 L1905.35,424.12 L1905.67,421.98 L1905.98,419.84 L1906.29,417.69 L1906.60,415.55 L1906.91,413.40 L1907.22,411.26 L1907.53,409.11 L1907.84,406.97 L1908.15,404.82 L1908.45,402.68 L1908.76,400.53 L1909.07,398.39 L1909.37,396.24 L1909.67,394.10 L1909.98,391.95 L1910.28,389.80 L1910.58,387.66 L1910.88,385.51 L1911.18,383.36 L1911.48,381.22 L1911.78,379.07 L1912.08,376.92 L1912.38,374.77 L1912.67,372.62 L1912.97,370.48 L1913.26,368.33 L1913.56,366.18 L1913.85,364.03 L1914.14,361.88 L1914.44,359.73 L1914.73,357.58 L1915.02,355.43 L1915.31,353.28 L1915.60,351.13 L1915.89,348.98 L1916.17,346.83 L1916.46,344.68 L1916.75,342.53 L1917.03,340.38 L1917.32,338.23 L1917.60,336.08 L1917.88,333.92 L1918.16,331.77 L1918.45,329.62 L1918.73,327.47 L1919.01,325.31 L1919.29,323.16 L1919.56,321.01 L1919.84,318.85 L1920.12,316.70 L1920.40,314.55 L1920.67,312.39 L1920.95,310.24 L1921.22,308.08 L1921.49,305.93 L1921.76,303.77 L1922.04,301.62 L1922.31,299.46 L1922.58,297.30 L1922.85,295.15 L1923.11,292.99 L1923.38,290.83 L1923.65,288.68 L1923.92,286.52 L1924.18,284.36 L1924.45,282.20 L1924.71,280.05 L1924.97,277.89 L1925.23,275.73 L1925.50,273.57 L1925.76,271.41 L1926.02,269.25 L1926.28,267.09 L1926.53,264.93 L1926.79,262.77 L1927.05,260.61 L1927.30,258.45 L1927.56,256.29 L1927.81,254.13 L1928.07,251.96 L1928.32,249.80 L1928.57,247.64 L1928.83,245.48 L1929.08,243.31 L1929.33,241.15 L1929.58,238.99 L1929.83,236.82 L1930.08,234.66 L1930.33,232.50 L1930.58,230.33 L1930.83,228.17 L1931.08,226.00 L1931.33,223.84 L1931.58,221.67 L1931.83,219.51 L1932.08,217.34 L1932.33,215.18 L1932.58,213.01 L1932.83,210.84 L1933.08,208.68 L1933.33,206.51 L1933.58,204.34 L1933.83,202.18 L1934.09,200.01 L1934.34,197.84 L1934.59,195.68 L1934.85,193.51 L1935.10,191.34 L1935.36,189.17 L1935.62,187.01 L1935.88,184.84 L1936.14,182.67 L1936.40,180.50 L1936.66,178.33 L1936.92,176.17 L1937.18,174.00 L1937.45,171.83 L1937.71,169.66 L1937.98,167.49 L1938.25,165.32 L1938.52,163.15 L1938.79,160.98 L1939.06,158.82 L1939.33,156.65 L1939.61,154.48 L1939.89,152.31 L1940.17,150.14 L1940.45,147.97 L1940.73,145.80 L1941.02,143.63 L1941.30,141.46 L1941.59,139.29 L1941.88,137.12 L1942.17,134.95 L1942.47,132.78 L1942.77,130.61 L1943.06,128.45 L1943.37,126.28 L1943.67,124.11 L1943.98,121.94 L1944.29,119.77 L1944.60,117.60 L1944.91,115.43 L1945.23,113.26 L1945.55,111.09 L1945.87,108.92 L1946.19,106.75 L1946.52,104.59 L1946.85,102.42 L1947.18,100.25 L1947.52,98.08 L1947.86,95.91 L1948.20,93.74 L1948.54,91.57 L1948.89,89.41 L1949.24,87.24 L1949.60,85.07 L1949.96,82.90 L1950.32,80.74 L1950.68,78.57 L1951.05,76.40 L1951.42,74.23 L1951.80,72.07 L1952.18,69.90 L1952.56,67.73 L1952.95,65.57 L1953.34,63.40 L1953.73,61.23 L1954.13,59.07 L1954.53,56.90 L1954.94,54.74 L1955.35,52.57 L1955.76,50.41 L1956.18,48.24 L1956.60,46.08 L1956.94,44.35 L1961.71,19.81" fill="none" stroke="#000" stroke-width="7.5" stroke-linejoin="round"/>
<path d="M258.69,1235.42 L260.77,1235.41 L262.85,1235.39 L264.93,1235.38 L267.01,1235.36 L269.09,1235.35 L271.17,1235.34 L273.25,1235.32 L275.33,1235.31 L277.41,1235.29 L279.49,1235.28 L281.57,1235.26 L283.65,1235.25 L285.73,1235.24 L287.80,1235.22 L289.88,1235.21 L291.96,1235.19 L294.04,1235.18 L296.12,1235.17 L298.20,1235.15 L300.28,1235.14 L302.36,1235.13 L304.44,1235.11 L306.52,1235.10 L308.60,1235.09 L310.68,1235.08 L312.76,1235.06 L314.84,1235.05 L316.92,1235.04 L319.00,1235.03 L321.07,1235.01 L323.15,1235.00 L325.23,1234.99 L327.31,1234.98 L329.39,1234.96 L331.47,1234.95 L333.55,1234.94 L335.63,1234.93 L337.71,1234.92 L339.79,1234.90 L341.87,1234.89 L343.95,1234.88 L346.03,1234.87 L348.11,1234.86 L350.19,1234.85 L352.26,1234.84 L354.34,1234.82 L356.42,1234.81 L358.50,1234.80 L360.58,1234.79 L362.66,1234.78 L364.74,1234.77 L366.82,1234.76 L368.90,1234.75 L370.98,1234.74 L373.06,1234.73 L375.14,1234.71 L377.22,1234.70 L379.30,1234.69 L381.37,1234.68 L383.45,1234.67 L385.53,1234.66 L387.61,1234.65 L389.69,1234.64 L391.77,1234.63 L393.85,1234.62 L395.93,1234.61 L398.01,1234.60 L400.09,1234.59 L402.17,1234.58 L404.25,1234.57 L406.33,1234.56 L408.40,1234.55 L410.48,1234.54 L412.56,1234.53 L414.64,1234.52 L416.72,1234.51 L418.80,1234.50 L420.88,1234.49 L422.96,1234.48 L425.04,1234.47 L427.12,1234.46 L429.20,1234.45 L431.28,1234.44 L433.36,1234.43 L435.44,1234.42 L437.51,1234.41 L439.59,1234.40 L441.67,1234.39 L443.75,1234.38 L445.83,1234.38 L447.91,1234.37 L449.99,1234.36 L452.07,1234.35 L454.15,1234.34 L456.23,1234.33 L458.31,1234.32 L460.39,1234.31 L462.47,1234.30 L464.54,1234.29 L466.62,1234.28 L468.70,1234.27 L470.78,1234.26 L472.86,1234.25 L474.94,1234.25 L477.02,1234.24 L479.10,1234.23 L481.18,1234.22 L483.26,1234.21 L485.34,1234.20 L487.42,1234.19 L489.49,1234.18 L491.57,1234.17 L493.65,1234.16 L495.73,1234.15 L497.81,1234.14 L499.89,1234.13 L501.97,1234.13 L504.05,1234.12 L506.13,1234.11 L508.21,1234.10 L510.29,1234.09 L512.37,1234.08 L514.45,1234.07 L516.52,1234.06 L518.60,1234.05 L520.68,1234.04 L522.76,1234.03 L524.84,1234.02 L526.92,1234.01 L529.00,1234.01 L531.08,1234.00 L533.16,1233.99 L535.24,1233.98 L537.32,1233.97 L539.40,1233.96 L541.48,1233.95 L543.55,1233.94 L545.63,1233.93 L547.71,1233.92 L549.79,1233.91 L551.87,1233.90 L553.95,1233.89 L556.03,1233.88 L558.11,1233.87 L560.19,1233.86 L562.27,1233.85 L564.35,1233.84 L566.43,1233.83 L568.50,1233.82 L570.58,1233.81 L572.66,1233.80 L574.74,1233.79 L576.82,1233.79 L578.90,1233.78 L580.98,1233.77 L583.06,1233.76 L585.14,1233.74 L587.22,1233.73 L589.30,1233.72 L591.38,1233.71 L593.46,1233.70 L595.53,1233.69 L597.61,1233.68 L599.69,1233.67 L601.77,1233.66 L603.85,1233.65 L605.93,1233.64 L608.01,1233.63 L610.09,1233.62 L612.17,1233.61 L614.25,1233.60 L616.33,1233.59 L618.41,1233.58 L620.48,1233.57 L622.56,1233.56 L624.64,1233.54 L626.72,1233.53 L628.80,1233.52 L630.88,1233.51 L632.96,1233.50 L635.04,1233.49 L637.12,1233.48 L639.20,1233.47 L641.28,1233.45 L643.36,1233.44 L645.43,1233.43 L647.51,1233.42 L649.59,1233.41 L651.67,1233.40 L653.75,1233.38 L655.83,1233.37 L657.91,1233.36 L659.99,1233.35 L662.07,1233.33 L664.15,1233.32 L666.23,1233.31 L668.31,1233.30 L670.38,1233.29 L672.46,1233.27 L674.54,1233.26 L676.62,1233.25 L678.70,1233.23 L680.78,1233.22 L682.86,1233.21 L684.94,1233.19 L687.02,1233.18 L689.10,1233.17 L691.18,1233.15 L693.26,1233.14 L695.33,1233.13 L697.41,1233.11 L699.49,1233.10 L701.57,1233.09 L703.65,1233.07 L705.73,1233.06 L707.81,1233.04 L709.89,1233.03 L711.97,1233.02 L714.05,1233.00 L716.13,1232.99 L718.21,1232.97 L720.28,1232.96 L722.36,1232.94 L724.44,1232.93 L726.52,1232.91 L728.60,1232.90 L730.68,1232.88 L732.76,1232.87 L734.84,1232.85 L736.92,1232.84 L739.00,1232.82 L741.08,1232.80 L743.16,1232.79 L745.23,1232.77 L747.31,1232.76 L749.39,1232.74 L751.47,1232.72 L753.55,1232.71 L755.63,1232.69 L757.71,1232.67 L759.79,1232.66 L761.87,1232.64 L763.95,1232.62 L766.03,1232.61 L768.11,1232.59 L770.18,1232.57 L772.26,1232.55 L774.34,1232.54 L776.42,1232.52 L778.50,1232.50 L780.58,1232.48 L782.66,1232.46 L784.74,1232.45 L786.82,1232.43 L788.90,1232.41 L790.98,1232.39 L793.05,1232.37 L795.13,1232.35 L797.21,1232.33 L799.29,1232.31 L801.37,1232.29 L803.45,1232.27 L805.53,1232.25 L807.61,1232.23 L809.69,1232.21 L811.77,1232.19 L813.85,1232.17 L815.93,1232.15 L818.00,1232.13 L820.08,1232.11 L822.16,1232.09 L824.24,1232.07 L826.32,1232.05 L828.40,1232.03 L830.48,1232.01 L832.56,1231.98 L834.64,1231.96 L836.72,1231.94 L838.80,1231.92 L840.87,1231.90 L842.95,1231.87 L845.03,1231.85 L847.11,1231.83 L849.19,1231.81 L851.27,1231.78 L853.35,1231.76 L855.43,1231.74 L857.51,1231.71 L859.59,1231.69 L861.67,1231.67 L863.74,1231.64 L865.82,1231.62 L867.90,1231.59 L869.98,1231.57 L872.06,1231.54 L874.14,1231.52 L876.22,1231.49 L878.30,1231.47 L880.38,1231.44 L882.46,1231.42 L884.54,1231.39 L886.61,1231.37 L888.69,1231.34 L890.77,1231.31 L892.85,1231.29 L894.93,1231.26 L897.01,1231.23 L899.09,1231.21 L901.17,1231.18 L903.25,1231.15 L905.33,1231.12 L907.40,1231.10 L909.48,1231.07 L911.56,1231.04 L913.64,1231.01 L915.72,1230.98 L917.80,1230.96 L919.88,1230.93 L921.96,1230.90 L924.04,1230.87 L926.12,1230.84 L928.19,1230.81 L930.27,1230.78 L932.35,1230.75 L934.43,1230.72 L936.51,1230.69 L938.59,1230.66 L940.67,1230.63 L942.75,1230.60 L944.83,1230.56 L946.91,1230.53 L948.98,1230.50 L951.06,1230.47 L953.14,1230.44 L955.22,1230.41 L957.30,1230.37 L959.38,1230.34 L961.46,1230.31 L963.54,1230.27 L965.62,1230.24 L967.70,1230.21 L969.77,1230.17 L971.85,1230.14 L973.93,1230.11 L976.01,1230.07 L978.09,1230.04 L980.17,1230.00 L982.25,1229.97 L984.33,1229.93 L986.41,1229.90 L988.48,1229.86 L990.56,1229.82 L992.64,1229.79 L994.72,1229.75 L996.80,1229.71 L998.88,1229.68 L1000.96,1229.64 L1003.04,1229.60 L1005.12,1229.57 L1007.20,1229.53 L1009.27,1229.49 L1011.35,1229.45 L1013.43,1229.41 L1015.51,1229.37 L1017.59,1229.34 L1019.67,1229.30 L1021.75,1229.26 L1023.83,1229.22 L1025.91,1229.18 L1027.98,1229.14 L1030.06,1229.10 L1032.14,1229.06 L1034.22,1229.02 L1036.30,1228.97 L1038.38,1228.93 L1040.46,1228.89 L1042.54,1228.85 L1044.61,1228.81 L1046.69,1228.77 L1048.77,1228.72 L1050.85,1228.68 L1052.93,1228.64 L1055.01,1228.59 L1057.09,1228.55 L1059.17,1228.51 L1061.25,1228.46 L1063.32,1228.42 L1065.40,1228.37 L1067.48,1228.33 L1069.56,1228.28 L1071.64,1228.24 L1073.72,1228.19 L1075.80,1228.15 L1077.88,1228.10 L1079.95,1228.05 L1082.03,1228.01 L1084.11,1227.96 L1086.19,1227.91 L1088.27,1227.86 L1090.35,1227.81 L1092.43,1227.76 L1094.51,1227.72 L1096.58,1227.67 L1098.66,1227.62 L1100.74,1227.57 L1102.82,1227.51 L1104.90,1227.46 L1106.98,1227.41 L1109.05,1227.36 L1111.13,1227.31 L1113.21,1227.25 L1115.29,1227.20 L1117.37,1227.14 L1119.45,1227.09 L1121.52,1227.03 L1123.60,1226.98 L1125.68,1226.92 L1127.76,1226.87 L1129.84,1226.81 L1131.91,1226.75 L1133.99,1226.69 L1136.07,1226.63 L1138.15,1226.57 L1140.23,1226.51 L1142.30,1226.45 L1144.38,1226.39 L1146.46,1226.33 L1148.54,1226.27 L1150.61,1226.20 L1152.69,1226.14 L1154.77,1226.07 L1156.85,1226.01 L1158.92,1225.94 L1161.00,1225.87 L1163.08,1225.81 L1165.15,1225.74 L1167.23,1225.67 L1169.31,1225.60 L1171.38,1225.53 L1173.46,1225.46 L1175.54,1225.38 L1177.61,1225.31 L1179.69,1225.24 L1181.77,1225.16 L1183.84,1225.09 L1185.92,1225.01 L1188.00,1224.94 L1190.07,1224.86 L1192.15,1224.78 L1194.22,1224.70 L1196.30,1224.62 L1198.38,1224.54 L1200.45,1224.46 L1202.53,1224.37 L1204.60,1224.29 L1206.68,1224.20 L1208.76,1224.12 L1210.83,1224.03 L1212.91,1223.94 L1214.98,1223.86 L1217.06,1223.77 L1219.13,1223.68 L1221.21,1223.58 L1223.28,1223.49 L1225.36,1223.40 L1227.43,1223.30 L1229.51,1223.21 L1231.58,1223.11 L1233.66,1223.01 L1235.73,1222.92 L1237.81,1222.82 L1239.88,1222.71 L1241.96,1222.61 L1244.03,1222.51 L1246.10,1222.41 L1248.18,1222.30 L1250.25,1222.19 L1252.33,1222.09 L1254.40,1221.98 L1256.48,1221.87 L1258.55,1221.76 L1260.62,1221.64 L1262.70,1221.53 L1264.77,1221.41 L1266.85,1221.30 L1268.92,1221.18 L1270.99,1221.06 L1273.07,1220.94 L1275.14,1220.81 L1277.22,1220.69 L1279.29,1220.56 L1281.36,1220.43 L1283.44,1220.30 L1285.51,1220.17 L1287.58,1220.04 L1289.66,1219.90 L1291.73,1219.76 L1293.80,1219.62 L1295.88,1219.48 L1297.95,1219.34 L1300.02,1219.19 L1302.09,1219.05 L1304.17,1218.90 L1306.24,1218.74 L1308.31,1218.59 L1310.39,1218.43 L1312.46,1218.27 L1314.53,1218.11 L1316.60,1217.95 L1318.68,1217.78 L1320.75,1217.61 L1322.82,1217.44 L1324.89,1217.27 L1326.97,1217.10 L1329.04,1216.92 L1331.11,1216.74 L1333.18,1216.55 L1335.25,1216.37 L1337.32,1216.18 L1339.40,1215.98 L1341.47,1215.79 L1343.54,1215.59 L1345.61,1215.39 L1347.68,1215.19 L1349.75,1214.98 L1351.82,1214.77 L1353.89,1214.56 L1355.97,1214.35 L1358.04,1214.13 L1360.11,1213.91 L1362.18,1213.68 L1364.25,1213.45 L1366.32,1213.22 L1368.39,1212.99 L1370.46,1212.75 L1372.53,1212.51 L1374.60,1212.26 L1376.67,1212.02 L1378.74,1211.76 L1380.81,1211.51 L1382.87,1211.25 L1384.94,1210.99 L1387.01,1210.72 L1389.08,1210.45 L1391.15,1210.18 L1393.22,1209.90 L1395.28,1209.62 L1397.35,1209.34 L1399.42,1209.05 L1401.49,1208.76 L1403.55,1208.46 L1405.62,1208.16 L1407.69,1207.86 L1409.75,1207.55 L1411.82,1207.24 L1413.89,1206.92 L1415.95,1206.60 L1418.02,1206.28 L1420.08,1205.95 L1422.15,1205.61 L1424.21,1205.28 L1426.28,1204.94 L1428.34,1204.59 L1430.40,1204.24 L1432.47,1203.88 L1434.53,1203.52 L1436.59,1203.16 L1438.65,1202.79 L1440.71,1202.41 L1442.77,1202.02 L1444.83,1201.63 L1446.88,1201.24 L1448.94,1200.83 L1450.99,1200.42 L1453.04,1200.00 L1455.09,1199.58 L1457.13,1199.14 L1459.18,1198.70 L1461.22,1198.25 L1463.26,1197.79 L1465.29,1197.32 L1467.32,1196.84 L1469.35,1196.36 L1471.38,1195.86 L1473.40,1195.35 L1475.42,1194.84 L1477.44,1194.31 L1479.45,1193.77 L1481.46,1193.22 L1483.46,1192.66 L1485.46,1192.09 L1487.45,1191.51 L1489.44,1190.91 L1491.43,1190.30 L1493.41,1189.68 L1495.38,1189.05 L1497.35,1188.41 L1499.32,1187.75 L1501.27,1187.08 L1503.23,1186.39 L1505.18,1185.69 L1507.12,1184.97 L1509.05,1184.25 L1510.98,1183.50 L1512.90,1182.74 L1514.82,1181.97 L1516.73,1181.18 L1518.63,1180.38 L1520.53,1179.56 L1522.42,1178.72 L1524.30,1177.87 L1526.17,1177.00 L1528.04,1176.11 L1529.90,1175.20 L1531.75,1174.28 L1533.59,1173.34 L1535.43,1172.39 L1537.25,1171.41 L1539.07,1170.42 L1540.88,1169.40 L1542.68,1168.37 L1544.47,1167.32 L1546.26,1166.25 L1548.03,1165.16 L1549.79,1164.06 L1551.55,1162.94 L1553.29,1161.80 L1555.03,1160.64 L1556.75,1159.47 L1558.47,1158.28 L1560.18,1157.07 L1561.87,1155.85 L1563.55,1154.61 L1565.23,1153.36 L1566.89,1152.09 L1568.54,1150.81 L1570.18,1149.52 L1571.81,1148.21 L1573.43,1146.88 L1575.04,1145.55 L1576.63,1144.20 L1578.22,1142.83 L1579.79,1141.46 L1581.35,1140.07 L1582.89,1138.67 L1584.43,1137.26 L1585.95,1135.84 L1587.46,1134.41 L1588.96,1132.96 L1590.44,1131.51 L1591.91,1130.04 L1593.37,1128.57 L1594.81,1127.08 L1596.24,1125.59 L1597.66,1124.09 L1599.07,1122.57 L1600.46,1121.05 L1601.85,1119.51 L1603.22,1117.97 L1604.58,1116.42 L1605.92,1114.86 L1607.26,1113.29 L1608.58,1111.71 L1609.89,1110.12 L1611.19,1108.52 L1612.48,1106.92 L1613.76,1105.30 L1615.03,1103.68 L1616.29,1102.05 L1617.53,1100.41 L1618.77,1098.76 L1619.99,1097.11 L1621.21,1095.45 L1622.41,1093.77 L1623.61,1092.10 L1624.79,1090.41 L1625.97,1088.71 L1627.13,1087.01 L1628.29,1085.30 L1629.44,1083.59 L1630.57,1081.87 L1631.70,1080.14 L1632.82,1078.40 L1633.93,1076.65 L1635.03,1074.90 L1636.12,1073.15 L1637.20,1071.38 L1638.28,1069.61 L1639.34,1067.84 L1640.40,1066.06 L1641.45,1064.27 L1642.49,1062.47 L1643.53,1060.67 L1644.55,1058.87 L1645.57,1057.06 L1646.58,1055.24 L1647.58,1053.42 L1648.58,1051.59 L1649.57,1049.76 L1650.55,1047.92 L1651.52,1046.08 L1652.49,1044.24 L1653.45,1042.39 L1654.40,1040.53 L1655.35,1038.67 L1656.29,1036.80 L1657.22,1034.94 L1658.15,1033.06 L1659.07,1031.19 L1659.99,1029.31 L1660.90,1027.42 L1661.80,1025.53 L1662.70,1023.64 L1663.60,1021.75 L1664.48,1019.85 L1665.37,1017.95 L1666.24,1016.04 L1667.11,1014.14 L1667.98,1012.23 L1668.84,1010.31 L1669.70,1008.40 L1670.55,1006.48 L1671.40,1004.56 L1672.25,1002.64 L1673.09,1000.71 L1673.92,998.79 L1674.75,996.86 L1675.58,994.93 L1676.40,993.00 L1677.22,991.06 L1678.04,989.13 L1678.85,987.19 L1679.66,985.25 L1680.47,983.31 L1681.27,981.37 L1682.07,979.43 L1682.87,977.49 L1683.66,975.55 L1684.45,973.61 L1685.24,971.66 L1686.03,969.72 L1686.81,967.77 L1687.59,965.83 L1688.37,963.88 L1689.14,961.93 L1689.92,959.99 L1690.69,958.04 L1691.45,956.09 L1692.22,954.14 L1692.98,952.19 L1693.74,950.24 L1694.49,948.29 L1695.25,946.33 L1696.00,944.38 L1696.75,942.43 L1697.49,940.47 L1698.24,938.52 L1698.98,936.56 L1699.71,934.61 L1700.45,932.65 L1701.18,930.69 L1701.91,928.74 L1702.64,926.78 L1703.37,924.82 L1704.09,922.86 L1704.81,920.90 L1705.53,918.94 L1706.24,916.98 L1706.96,915.01 L1707.67,913.05 L1708.38,911.09 L1709.08,909.12 L1709.79,907.16 L1710.49,905.19 L1711.19,903.23 L1711.88,901.26 L1712.58,899.30 L1713.27,897.33 L1713.96,895.36 L1714.65,893.39 L1715.33,891.42 L1716.01,889.45 L1716.70,887.48 L1717.37,885.51 L1718.05,883.54 L1718.72,881.57 L1719.40,879.60 L1720.07,877.63 L1720.73,875.65 L1721.40,873.68 L1722.06,871.71 L1722.72,869.73 L1723.38,867.76 L1724.04,865.78 L1724.69,863.81 L1725.34,861.83 L1726.00,859.85 L1726.64,857.87 L1727.29,855.90 L1727.93,853.92 L1728.58,851.94 L1729.22,849.96 L1729.86,847.98 L1730.49,846.00 L1731.13,844.02 L1731.76,842.04 L1732.39,840.06 L1733.02,838.07 L1733.64,836.09 L1734.27,834.11 L1734.89,832.13 L1735.51,830.14 L1736.13,828.16 L1736.75,826.17 L1737.36,824.19 L1737.98,822.20 L1738.59,820.22 L1739.20,818.23 L1739.81,816.24 L1740.41,814.26 L1741.02,812.27 L1741.62,810.28 L1742.22,808.29 L1742.82,806.30 L1743.42,804.31 L1744.01,802.32 L1744.61,800.33 L1745.20,798.34 L1745.79,796.35 L1746.38,794.36 L1746.97,792.37 L1747.55,790.38 L1748.14,788.39 L1748.72,786.39 L1749.30,784.40 L1749.88,782.41 L1750.46,780.41 L1751.04,778.42 L1751.61,776.42 L1752.18,774.43 L1752.76,772.44 L1753.33,770.44 L1753.90,768.44 L1754.46,766.45 L1755.03,764.45 L1755.59,762.45 L1756.16,760.46 L1756.72,758.46 L1757.28,756.46 L1757.84,754.46 L1758.39,752.46 L1758.95,750.47 L1759.51,748.47 L1760.06,746.47 L1760.61,744.47 L1761.16,742.47 L1761.71,740.47 L1762.26,738.47 L1762.81,736.47 L1763.35,734.46 L1763.90,732.46 L1764.44,730.46 L1764.98,728.46 L1765.52,726.46 L1766.06,724.45 L1766.60,722.45 L1767.14,720.45 L1767.67,718.44 L1768.21,716.44 L1768.74,714.43 L1769.27,712.43 L1769.80,710.43 L1770.33,708.42 L1770.86,706.42 L1771.39,704.41 L1771.92,702.40 L1772.44,700.40 L1772.97,698.39 L1773.49,696.38 L1774.02,694.38 L1774.54,692.37 L1775.06,690.36 L1775.58,688.36 L1776.10,686.35 L1776.61,684.34 L1777.13,682.33 L1777.65,680.32 L1778.16,678.32 L1778.68,676.31 L1779.19,674.30 L1779.70,672.29 L1780.22,670.28 L1780.73,668.27 L1781.24,666.26 L1781.74,664.25 L1782.25,662.24 L1782.76,660.23 L1783.27,658.22 L1783.77,656.21 L1784.28,654.19 L1784.78,652.18 L1785.29,650.17 L1785.79,648.16 L1786.29,646.15 L1786.79,644.14 L1787.30,642.12 L1787.80,640.11 L1788.30,638.10 L1788.79,636.08 L1789.29,634.07 L1789.79,632.06 L1790.29,630.05 L1790.78,628.03 L1791.28,626.02 L1791.78,624.00 L1792.27,621.99 L1792.76,619.98 L1793.26,617.96 L1793.75,615.95 L1794.24,613.93 L1794.74,611.92 L1795.23,609.90 L1795.72,607.89 L1796.21,605.87 L1796.70,603.86 L1797.19,601.84 L1797.68,599.82 L1798.16,597.81 L1798.65,595.79 L1799.14,593.78 L1799.63,591.76 L1800.11,589.74 L1800.60,587.73 L1801.08,585.71 L1801.57,583.69 L1802.05,581.68 L1802.53,579.66 L1803.02,577.64 L1803.50,575.62 L1803.98,573.61 L1804.46,571.59 L1804.95,569.57 L1805.43,567.55 L1805.91,565.53 L1806.39,563.51 L1806.87,561.50 L1807.34,559.48 L1807.82,557.46 L1808.30,555.44 L1808.78,553.42 L1809.26,551.40 L1809.73,549.38 L1810.21,547.36 L1810.69,545.34 L1811.16,543.32 L1811.64,541.30 L1812.11,539.28 L1812.58,537.26 L1813.06,535.24 L1813.53,533.22 L1814.01,531.20 L1814.48,529.18 L1814.95,527.16 L1815.42,525.14 L1815.89,523.11 L1816.36,521.09 L1816.84,519.07 L1817.31,517.05 L1817.78,515.03 L1818.25,513.01 L1818.72,510.99 L1819.18,508.96 L1819.65,506.94 L1820.12,504.92 L1820.59,502.90 L1821.06,500.87 L1821.52,498.85 L1821.99,496.83 L1822.46,494.81 L1822.92,492.78 L1823.39,490.76 L1823.86,488.74 L1824.32,486.71 L1824.79,484.69 L1825.25,482.67 L1825.72,480.64 L1826.18,478.62 L1826.65,476.60 L1827.11,474.57 L1827.57,472.55 L1828.04,470.52 L1828.50,468.50 L1828.96,466.48 L1829.42,464.45 L1829.89,462.43 L1830.35,460.40 L1830.81,458.38 L1831.27,456.35 L1831.73,454.33 L1832.19,452.30 L1832.65,450.28 L1833.12,448.25 L1833.58,446.23 L1834.04,444.20 L1834.50,442.18 L1834.96,440.15 L1835.41,438.13 L1835.87,436.10 L1836.33,434.08 L1836.79,432.05 L1837.25,430.02 L1837.71,428.00 L1838.17,425.97 L1838.63,423.95 L1839.08,421.92 L1839.54,419.89 L1840.00,417.87 L1840.46,415.84 L1840.91,413.81 L1841.37,411.79 L1841.83,409.76 L1842.29,407.74 L1842.74,405.71 L1843.20,403.68 L1843.66,401.65 L1844.11,399.63 L1844.57,397.60 L1845.03,395.57 L1845.48,393.55 L1845.94,391.52 L1846.39,389.49 L1846.85,387.47 L1847.30,385.44 L1847.76,383.41 L1848.22,381.38 L1848.67,379.36 L1849.13,377.33 L1849.58,375.30 L1850.04,373.27 L1850.49,371.25 L1850.94,369.22 L1851.40,367.19 L1851.85,365.16 L1852.31,363.13 L1852.76,361.11 L1853.21,359.08 L1853.67,357.05 L1854.12,355.02 L1854.57,352.99 L1855.03,350.97 L1855.48,348.94 L1855.93,346.91 L1856.39,344.88 L1856.84,342.85 L1857.29,340.83 L1857.74,338.80 L1858.19,336.77 L1858.64,334.74 L1859.10,332.71 L1859.55,330.68 L1860.00,328.66 L1860.45,326.63 L1860.90,324.60 L1861.35,322.57 L1861.80,320.54 L1862.25,318.51 L1862.69,316.48 L1863.14,314.46 L1863.59,312.43 L1864.04,310.40 L1864.49,308.37 L1864.94,306.34 L1865.38,304.31 L1865.83,302.28 L1866.28,300.26 L1866.72,298.23 L1867.17,296.20 L1867.62,294.17 L1868.06,292.14 L1868.51,290.11 L1868.95,288.09 L1869.40,286.06 L1869.84,284.03 L1870.29,282.00 L1870.73,279.97 L1871.17,277.94 L1871.62,275.91 L1872.06,273.89 L1872.50,271.86 L1872.94,269.83 L1873.38,267.80 L1873.83,265.77 L1874.27,263.75 L1874.71,261.72 L1875.15,259.69 L1875.59,257.66 L1876.03,255.63 L1876.47,253.61 L1876.90,251.58 L1877.34,249.55 L1877.78,247.52 L1878.22,245.49 L1878.65,243.47 L1879.09,241.44 L1879.53,239.41 L1879.96,237.38 L1880.40,235.36 L1880.83,233.33 L1881.27,231.30 L1881.70,229.27 L1882.13,227.25 L1882.57,225.22 L1883.00,223.19 L1883.43,221.16 L1883.86,219.14 L1884.30,217.11 L1884.73,215.08 L1885.16,213.06 L1885.59,211.03 L1886.02,209.00 L1886.44,206.98 L1886.87,204.95 L1887.30,202.92 L1887.73,200.90 L1888.16,198.87 L1888.58,196.84 L1889.01,194.82 L1889.43,192.79 L1889.86,190.77 L1890.28,188.74 L1890.71,186.71 L1891.13,184.69 L1891.55,182.66 L1891.97,180.64 L1892.40,178.61 L1892.82,176.59 L1893.24,174.56 L1893.66,172.54 L1894.08,170.51 L1894.50,168.49 L1894.91,166.46 L1895.33,164.44 L1895.75,162.41 L1896.16,160.39 L1896.58,158.36 L1897.00,156.34 L1897.41,154.31 L1897.83,152.29 L1898.24,150.26 L1898.65,148.24 L1899.06,146.22 L1899.48,144.19 L1899.89,142.17 L1900.30,140.15 L1900.71,138.12 L1901.12,136.10 L1901.52,134.08 L1901.93,132.05 L1902.34,130.03 L1902.75,128.01 L1903.15,125.98 L1903.56,123.96 L1903.96,121.94 L1904.37,119.92 L1904.77,117.89 L1905.17,115.87 L1905.57,113.85 L1905.98,111.83 L1906.38,109.81 L1906.78,107.78 L1907.18,105.76 L1907.57,103.74 L1907.97,101.72 L1908.37,99.70 L1908.77,97.68 L1909.16,95.66 L1909.56,93.63 L1909.95,91.61 L1910.34,89.59 L1910.74,87.57 L1911.13,85.55 L1911.52,83.53 L1911.91,81.51 L1912.30,79.49 L1912.69,77.47 L1913.08,75.45 L1913.46,73.43 L1913.85,71.41 L1914.24,69.39 L1914.62,67.37 L1915.01,65.35 L1915.39,63.33 L1915.77,61.31 L1916.16,59.30 L1916.54,57.28 L1916.92,55.26 L1917.30,53.24 L1917.67,51.22 L1918.05,49.20 L1918.35,47.59 L1922.96,23.02" fill="none" stroke="#000" stroke-width="7" stroke-dasharray="28.5 32.22" stroke-dashoffset="-0.29" stroke-linejoin="round"/>
</g>
<g fill="none" stroke-linecap="square">
<rect x="255" y="41.6" width="3.5" height="1392.1" fill="#4a4a4a" stroke="none"/>
<rect x="258.5" y="45" width="3.5" height="1388.7" fill="#777" stroke="none"/>
<rect x="2020" y="45" width="3.5" height="1388.7" fill="#777" stroke="none"/>
<rect x="2023.5" y="41.6" width="3.5" height="1392.1" fill="#444" stroke="none"/>
<rect x="255" y="41.6" width="1772" height="3.4" fill="#222" stroke="none"/>
<rect x="262" y="45" width="1758" height="3" fill="#a0a0a0" stroke="none"/>
<rect x="255" y="1430.2" width="1772" height="3.5" fill="#1a1a1a" stroke="none"/>
</g>
<path d="M258.5,1432.0V1413.0M258.5,44.7V63.7M552.7,1432.0V1413.0M552.7,44.7V63.7M846.8,1432.0V1413.0M846.8,44.7V63.7M1141.0,1432.0V1413.0M1141.0,44.7V63.7M1435.1,1432.0V1413.0M1435.1,44.7V63.7M1729.3,1432.0V1413.0M1729.3,44.7V63.7M2023.5,1432.0V1413.0M2023.5,44.7V63.7M258.5,44.7H277.5M2023.5,44.7H2004.5M258.5,242.9H277.5M2023.5,242.9H2004.5M258.5,441.1H277.5M2023.5,441.1H2004.5M258.5,639.3H277.5M2023.5,639.3H2004.5M258.5,837.4H277.5M2023.5,837.4H2004.5M258.5,1035.6H277.5M2023.5,1035.6H2004.5M258.5,1233.8H277.5M2023.5,1233.8H2004.5M258.5,1432.0H277.5M2023.5,1432.0H2004.5" stroke="#1a1a1a" stroke-width="3.5" fill="none"/>
<g style="font-family:'Liberation Sans',Arial,Helvetica,sans-serif;font-size:65px" fill="#1a1a1a">
<text x="258.5" y="1523.5" text-anchor="middle">0</text>
<text x="552.7" y="1523.5" text-anchor="middle">0.2</text>
<text x="846.8" y="1523.5" text-anchor="middle">0.4</text>
<text x="1141.0" y="1523.5" text-anchor="middle">0.6</text>
<text x="1435.1" y="1523.5" text-anchor="middle">0.8</text>
<text x="1729.3" y="1523.5" text-anchor="middle">1</text>
<text x="2023.5" y="1523.5" text-anchor="middle">1.2</text>
<text x="229.7" y="69.7" text-anchor="end">10</text>
<text x="229.7" y="267.9" text-anchor="end">5</text>
<text x="229.7" y="466.1" text-anchor="end">0</text>
<text x="229.7" y="664.3" text-anchor="end">-5</text>
<text x="229.7" y="862.4" text-anchor="end">-10</text>
<text x="229.7" y="1060.6" text-anchor="end">-15</text>
<text x="229.7" y="1258.8" text-anchor="end">-20</text>
<text x="229.7" y="1457.0" text-anchor="end">-25</text>
</g>
<g style="font-family:'Liberation Sans',Arial,Helvetica,sans-serif;font-size:65px" fill="#000">
<text x="1141" y="1611" text-anchor="middle">Voltage (V)</text>
<text transform="translate(100,1099) rotate(-90)" style="font-size:64px">Current density (mA/cm<tspan dy="-32" style="font-size:48px">2</tspan><tspan dx="4" dy="32">)</tspan></text>
</g>
<rect x="335.8" y="119.2" width="626" height="367.8" fill="#fff"/>
<rect x="335.8" y="119.2" width="626" height="3.6" fill="#1e1e1e"/>
<rect x="339" y="122.8" width="619.8" height="2.8" fill="#5a5a5a"/>
<rect x="335.8" y="119.2" width="3.2" height="367.8" fill="#000"/>
<rect x="958.8" y="119.2" width="3" height="367.8" fill="#000"/>
<rect x="335.8" y="483.9" width="626" height="3.1" fill="#000"/>
<rect x="335.8" y="487" width="626" height="2.6" fill="#b4b4b4"/>
<path d="M465,159.5H497" stroke="#8a8a8a" stroke-width="3.2" fill="none"/><path d="M496.5,158V190.5" stroke="#222" stroke-width="3.4" fill="none"/>
<circle cx="479.4" cy="261" r="19.5" fill="none" stroke="#8c8c8c" stroke-width="2.6" stroke-dasharray="4.5 3.2"/>
<line x1="361.7" y1="346.6" x2="600.5" y2="346.6" stroke="#000" stroke-width="9.5"/>
<line x1="361.7" y1="433.9" x2="390.8" y2="433.9" stroke="#000" stroke-width="9.8"/>
<line x1="423" y1="433.9" x2="452" y2="433.9" stroke="#000" stroke-width="9.8"/>
<line x1="481" y1="433.9" x2="513" y2="433.9" stroke="#000" stroke-width="9.8"/>
<line x1="529.5" y1="433.9" x2="552" y2="433.9" stroke="#000" stroke-width="9.8"/>
<line x1="581" y1="433.9" x2="600.5" y2="433.9" stroke="#000" stroke-width="9.8"/>
<g style="font-family:'Liberation Sans',Arial,Helvetica,sans-serif;font-size:64px" fill="#000">
<text x="616" y="201.9">n-i-p exp.</text>
<text x="616" y="286.6">p-i-n exp.</text>
<text x="616" y="371">n-i-p model</text>
<text x="616" y="457.6">p-i-n model</text>
</g>
</svg>
</body></html>
